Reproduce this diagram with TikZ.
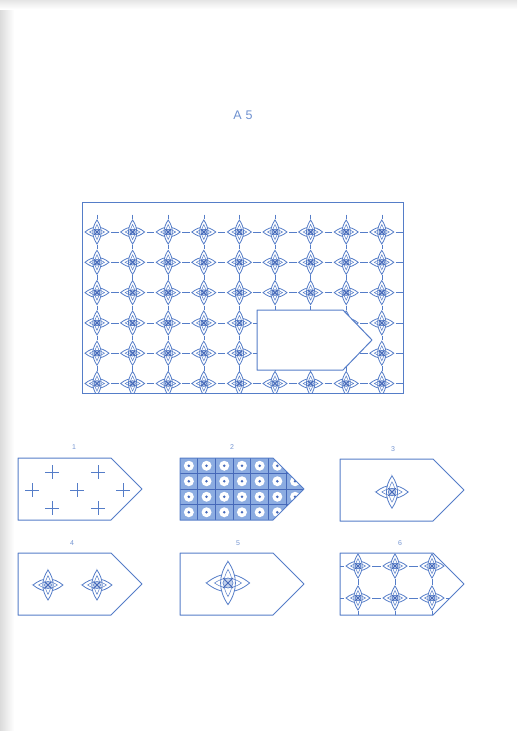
\documentclass[tikz,border=0pt]{standalone}
\usepackage{fontspec}
\setmainfont{Liberation Sans}
\definecolor{lineblue}{RGB}{85,125,200}
\definecolor{fillblue}{RGB}{140,172,225}
\definecolor{darkblue}{RGB}{70,105,185}
\tikzset{
  ln/.style={draw=lineblue, line width=0.8pt},
  frame/.style={draw=lineblue, line width=1pt},
  lbl/.style={text=lineblue!80, font=\fontsize{7}{8}\selectfont, inner sep=0pt},
  motif/.pic={
    \filldraw[fill=white, ln] (-12,0) .. controls (-4,-6.5) and (4,-6.5) .. (12,0) .. controls (4,6.5) and (-4,6.5) .. cycle;
    \filldraw[fill=white, ln] (0,-12) .. controls (-5.5,-4) and (-5.5,4) .. (0,12) .. controls (5.5,4) and (5.5,-4) .. cycle;
    \draw[lineblue, line width=0.5pt] (-7.5,0) .. controls (-2.5,-3.5) and (2.5,-3.5) .. (7.5,0) .. controls (2.5,3.5) and (-2.5,3.5) .. cycle;
    \draw[lineblue, line width=0.5pt] (0,-7.5) .. controls (-3,-2.5) and (-3,2.5) .. (0,7.5) .. controls (3,2.5) and (3,-2.5) .. cycle;
    \fill[lineblue!35] (0,0) circle (2.8);
    \draw[lineblue, line width=0.6pt] (0,0) circle (2.8);
    \draw[darkblue, line width=1pt] (-2.8,-2.8) -- (2.8,2.8) (-2.8,2.8) -- (2.8,-2.8);
  },
  crosspic/.pic={
    \draw[lineblue, line width=0.8pt] (-7,0) -- (7,0) (0,-7) -- (0,7);
  }
}
\def\pent#1#2{(#1,#2) -- ++(93,0) -- ++(31,31) -- ++(-31,31) -- ++(-93,0) -- cycle}
\begin{document}
\begin{tikzpicture}[x=1pt,y=-1pt]
\useasboundingbox (0,0) rectangle (517,731);
\fill[white] (0,0) rectangle (517,731);
\shade[left color=gray!28, right color=white] (0,0) rectangle (14,731);
\shade[top color=gray!20, bottom color=white] (0,0) rectangle (517,9);

% title
\node[text=lineblue!85, font=\fontsize{12.5}{14}\selectfont, inner sep=0pt] (title) at (243,115) {A\hspace{4pt}5};

% main matrix
\begin{scope}
  \clip (82,202) rectangle (403,393);
  \foreach \j in {0,...,5} {
    \foreach \i in {-1,...,8} {
      \draw[ln] (97+35.6*\i+14,232+30.3*\j) -- (97+35.6*\i+35.6-14,232+30.3*\j);
    }
  }
  \foreach \i in {0,...,8} {
    \foreach \j in {-1,...,5} {
      \draw[ln, line width=0.6pt] (97+35.6*\i,232+30.3*\j+13) -- (97+35.6*\i,232+30.3*\j+30.3-13);
    }
  }
  \foreach \i in {0,...,8} {
    \foreach \j in {0,...,5} {
      \pic at (97+35.6*\i,232+30.3*\j) {motif};
    }
  }
\end{scope}
\draw[frame] (82,202) rectangle (403,393);
% missing piece
\filldraw[fill=white, frame, line join=round] (257,310) -- (343,310) -- (372,340) -- (343,370) -- (257,370) -- cycle;

% option labels
\node[lbl] (l1) at (74,447) {1};
\node[lbl] (l2) at (232,447) {2};
\node[lbl] (l3) at (393,449) {3};
\node[lbl] (l4) at (72,543) {4};
\node[lbl] (l5) at (238,543) {5};
\node[lbl] (l6) at (400,543) {6};

% option 1
\foreach \p in {(52,472),(98,472),(32,490),(77,490),(123,490),(52,508),(98,508)} {
  \pic at \p {crosspic};
}
\draw[frame, line join=round] \pent{18}{458};

% option 2
\begin{scope}
  \clip \pent{180}{458};
  \fill[fillblue] (180,458) rectangle (304,520);
  \foreach \i in {0,...,6} {
    \foreach \j in {0,...,3} {
      \fill[white] (188.85+17.7*\i,465.75+15.5*\j) circle (5);
      \fill[darkblue] (188.85+17.7*\i,465.75+15.5*\j) circle (1.4);
    }
  }
  \foreach \i in {1,...,6} { \draw[darkblue, line width=0.9pt] (180+17.7*\i,458) -- (180+17.7*\i,520); }
  \foreach \j in {1,...,3} { \draw[darkblue, line width=0.9pt] (180,458+15.5*\j) -- (304,458+15.5*\j); }
\end{scope}
\draw[frame, line join=round] \pent{180}{458};

% option 3
\pic[scale=1.35] at (392,492) {motif};
\draw[frame, line join=round] \pent{340}{459};

% option 4
\pic[scale=1.25] at (48,585) {motif};
\pic[scale=1.25] at (97,585) {motif};
\draw[frame, line join=round] \pent{18}{553};

% option 5
\pic[scale=1.8] at (228,583) {motif};
\draw[frame, line join=round] \pent{180}{553};

% option 6
\begin{scope}
  \clip \pent{340}{553};
  \foreach \y in {566,598} {
    \foreach \x in {321,358,395,432} { \draw[ln] (\x+14,\y) -- (\x+37-14,\y); }
  }
  \foreach \x in {358,395,432} {
    \foreach \y in {534,566,598} { \draw[ln, line width=0.6pt] (\x,\y+13) -- (\x,\y+32-13); }
  }
  \foreach \x in {358,395,432} {
    \foreach \y in {566,598} {
      \pic at (\x,\y) {motif};
    }
  }
\end{scope}
\draw[frame, line join=round] \pent{340}{553};
\end{tikzpicture}
\end{document}
